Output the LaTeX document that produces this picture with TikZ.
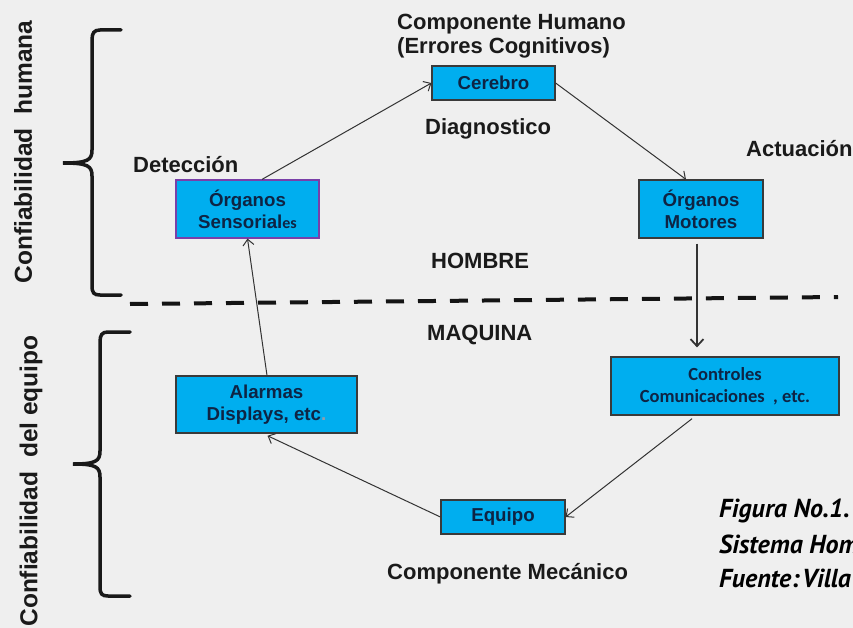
\documentclass[tikz,border=0pt]{standalone}
\usepackage{fontspec}
\setmainfont{Liberation Sans}
\newfontfamily\carl{Carlito}
\newfontfamily\ptsans{PT Sans}
\usetikzlibrary{arrows.meta,calc}

\definecolor{bgcol}{HTML}{EFEFEF}
\definecolor{boxfill}{HTML}{00AEEF}
\definecolor{boxline}{HTML}{3A3A3A}
\definecolor{sensline}{HTML}{7A3FA8}
\definecolor{boxtext}{HTML}{0E2444}
\definecolor{lbltext}{HTML}{1A1A1A}
\definecolor{linkcol}{HTML}{333333}

\tikzset{
  box/.style={draw=boxline, line width=1.2pt, fill=boxfill, text=boxtext,
    align=center, inner sep=0pt,
    font={\bfseries\fontsize{18.7}{22}\selectfont}},
  carlbox/.style={box, font={\carl\bfseries\fontsize{18.5}{22}\selectfont}},
  lbl/.style={anchor=base west, inner sep=0pt, text=lbltext,
    font={\bfseries\fontsize{22}{26}\selectfont}},
  sidelbl/.style={rotate=90, inner sep=0pt, text=lbltext,
    font={\bfseries\fontsize{24.5}{28}\selectfont}},
  caption/.style={anchor=base west, inner sep=0pt, text=black,
    font={\ptsans\bfseries\itshape\fontsize{26}{30}\selectfont}},
  link/.style={draw=linkcol, line width=1pt,
    -{Straight Barb[length=6pt,width=11pt]}},
  brace/.style={draw=black!90, line width=3.5pt, line cap=round},
  divider/.style={draw=black!92, line width=4pt, dash pattern=on 18pt off 14pt}
}

\begin{document}
\begin{tikzpicture}[x=1pt,y=-1pt]
\useasboundingbox (0,0) rectangle (853,628);
\fill[bgcol] (0,0) rectangle (853,628);

% side titles
\node[sidelbl] (tHum) at (23,152) {Confiabilidad\ \ humana};
\node[sidelbl] (tEq) at (31,481) {Confiabilidad\ \ del equipo};

% braces
\draw[brace] (121,30) -- (100,30) .. controls (94,30) and (92,33) .. (92,40)
  -- (92,150) .. controls (92,160) and (88,163) .. (63,163)
  .. controls (88,163) and (92,166) .. (92,176)
  -- (92,286) .. controls (92,293) and (94,295) .. (100,295) -- (121,295);
\draw[brace] (130,332) -- (108,332) .. controls (102,332) and (100,335) .. (100,342)
  -- (100,451) .. controls (100,461) and (96,464) .. (73,464)
  .. controls (96,464) and (100,467) .. (100,477)
  -- (100,587) .. controls (100,594) and (102,596) .. (108,596) -- (130,596);

% man / machine divider
\draw[divider] (130,304) -- (838,297);

% blocks
\node[box, minimum width=123pt, minimum height=34pt] (cerebro) at (493.5,83) {Cerebro};
\node[box, draw=sensline, minimum width=143pt, minimum height=58pt] (sens) at (247.5,209)
  {Órganos\\Sensorial{\carl\fontsize{16}{20}\selectfont es}};
\node[box, minimum width=124pt, minimum height=58pt] (motores) at (701,209) {Órganos\\Motores};
\node[box, minimum width=181pt, minimum height=57pt] (alarmas) at (266.5,404.5)
  {Alarmas\\Displays, etc{\color{boxtext!45}.}};
\node[carlbox, minimum width=228pt, minimum height=58pt] (controles) at (725,386)
  {Controles\\Comunicaciones\ \ , etc.};
\node[box, minimum width=124pt, minimum height=34pt] (equipo) at (503,517) {Equipo};

% labels
\node[lbl] (lHum) at (397,29.5) {Componente Humano};
\node[lbl] (lErr) at (397,54) {(Errores Cognitivos)};
\node[lbl] (lDiag) at (425,135) {Diagnostico};
\node[lbl] (lDet) at (133,173) {Detección};
\node[lbl] (lAct) at (746,157) {Actuación};
\node[lbl] (lHom) at (431,269) {HOMBRE};
\node[lbl] (lMaq) at (427,340) {MAQUINA};
\node[lbl] (lMec) at (387,579) {Componente Mecánico};

% caption
\node[caption] (cap1) at (719,517) {Figura No.1.};
\node[caption] (cap2) at (719,553) {Sistema Hom};
\node[caption] (cap3) at (719,587) {Fuente:\hspace{0.1em}Villa};

% flow
\draw[link] ([xshift=14.5pt]sens.north) -- (cerebro.west);
\draw[link] (cerebro.east) -- ([xshift=-15pt]motores.north);
\draw[link, line width=1.8pt, shorten <=5pt, shorten >=9pt,
  -{Straight Barb[length=7pt,width=13pt]}]
  ([xshift=-4pt]motores.south) -- ([xshift=-4pt]motores.south |- controles.north);
\draw[link, shorten <=5pt] ([xshift=-29pt]controles.south) -- (equipo.east);
\draw[link, shorten >=5pt] (equipo.west) -- ([xshift=-3.5pt]alarmas.south);
\draw[link] ([xshift=0.5pt]alarmas.north) -- (sens.south);
\end{tikzpicture}
\end{document}
